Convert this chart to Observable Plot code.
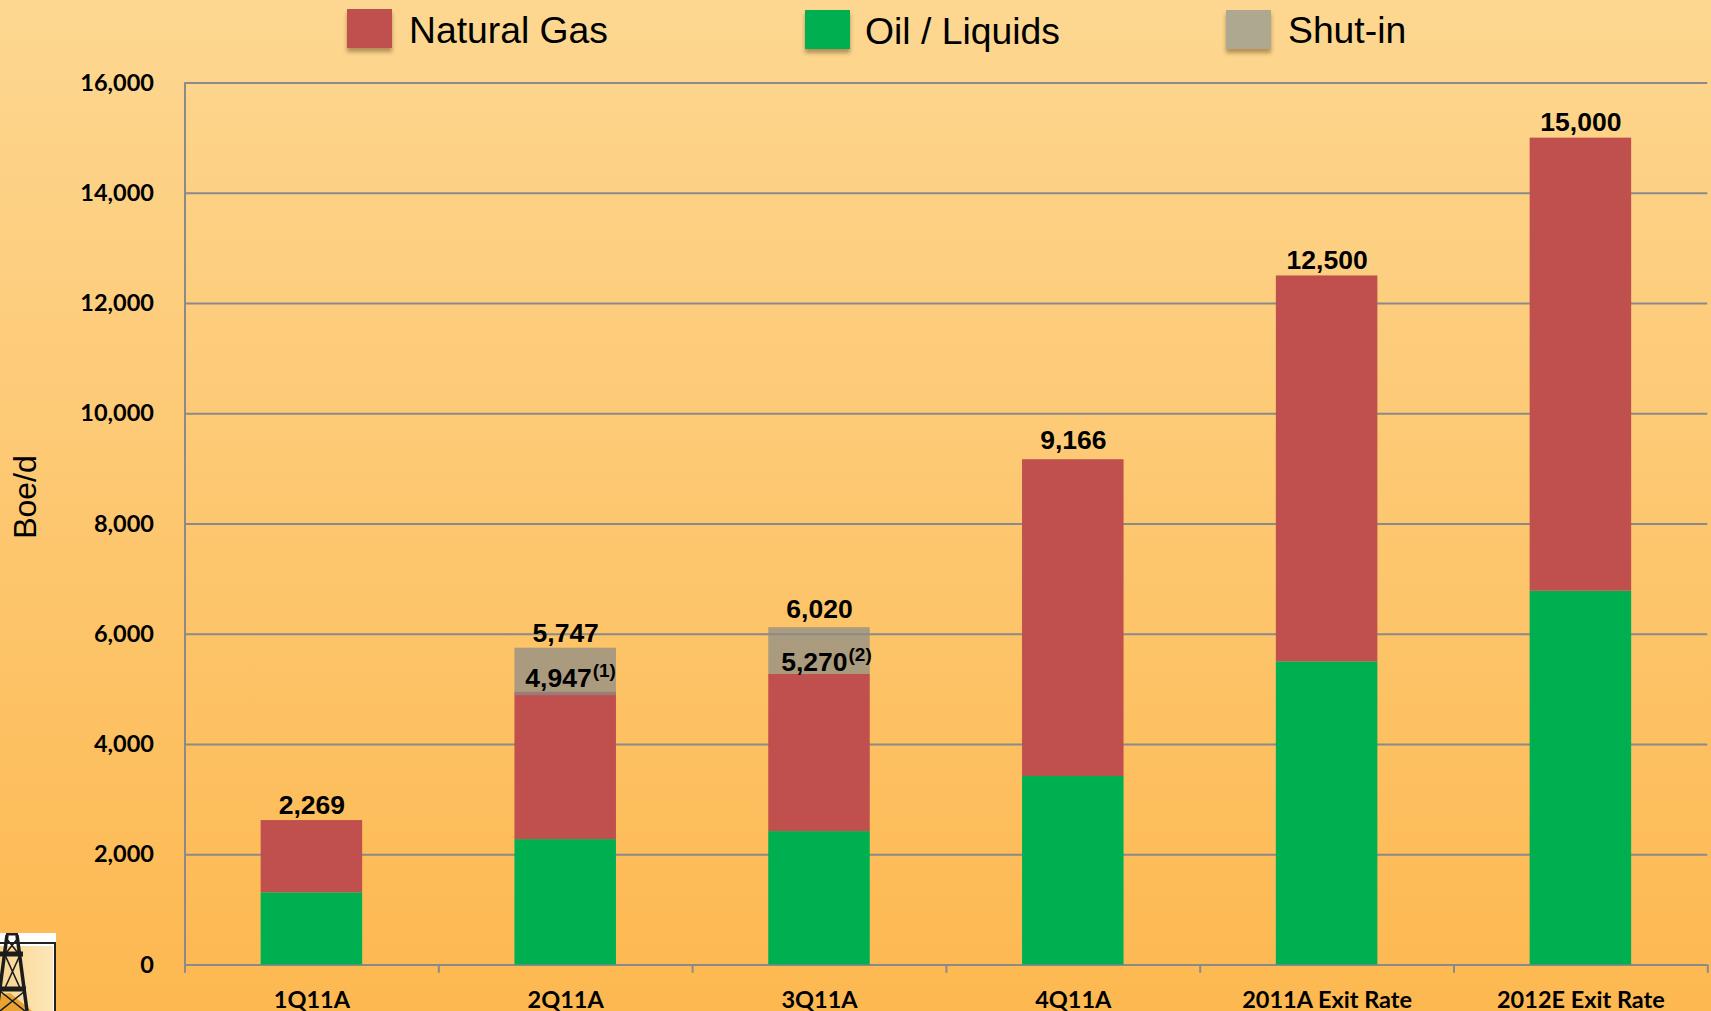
<!DOCTYPE html>
<html><head><meta charset="utf-8">
<script src="https://cdn.jsdelivr.net/npm/d3@7"></script>
<script src="https://cdn.jsdelivr.net/npm/@observablehq/plot@0.6"></script>
<style>
html,body{margin:0;padding:0;width:1711px;height:1011px;overflow:hidden}
body{position:relative;background:linear-gradient(#fdd791 0%,#fdb850 100%);font-family:"Liberation Sans",Arial,sans-serif}
#chart{position:absolute;left:0;top:0}
#chart svg{background:transparent;overflow:visible;display:block;max-width:none}
.sw{position:absolute;width:45px;height:39px;box-shadow:0 4px 4px rgba(90,60,20,.45)}
.lb{position:absolute;font-size:37.3px;line-height:42px;color:#000;white-space:nowrap}
#ylab{position:absolute;left:25px;top:497px;font-size:32px;color:#000;transform:translate(-50%,-50%) rotate(-90deg);white-space:nowrap}
#icon{position:absolute;left:0;top:933px}
</style></head><body>
<div id="chart"></div>
<div class="sw" style="left:347px;top:9px;background:#c0504d"></div><div class="lb" style="left:409px;top:9px">Natural Gas</div>
<div class="sw" style="left:805px;top:10px;background:#00b050"></div><div class="lb" style="left:865px;top:10px">Oil / Liquids</div>
<div class="sw" style="left:1226px;top:10px;background:#aea890"></div><div class="lb" style="left:1288px;top:9px">Shut-in</div>
<div id="ylab">Boe/d</div>
<svg id="icon" width="57" height="78" viewBox="0 0 57 78">
<defs><linearGradient id="beige" x1="0" x2="1" y1="0" y2="0"><stop offset="0" stop-color="#f8d690"/><stop offset="1" stop-color="#fde6b8"/></linearGradient></defs>
<rect width="56" height="78" fill="#fff"/>
<rect x="-2" y="10" width="57" height="70" fill="#fff" stroke="#222" stroke-width="2"/>
<rect x="-2" y="13" width="55" height="66" fill="url(#beige)"/>
<path d="M-2 78L-2 62L10 60L32 78Z" fill="#e8a332"/>
<g stroke="#1c1c1c" fill="none">
<path d="M7 2L-3 78M17 2L27 78" stroke-width="3.5"/>
<path d="M6 1H18" stroke-width="3"/>
<path d="M0 21H23" stroke-width="5"/><path d="M-2 56H26" stroke-width="5"/>
<path d="M6 5L18 20M18 5L6 20M5 22L20 55M20 22L5 55M0 58L25 78M25 58L0 78" stroke-width="1.6"/>
</g></svg>
<script>
const categories = ["1Q11A","2Q11A","3Q11A","4Q11A","2011A Exit Rate","2012E Exit Rate"];
const oilLiquids = [1310,2275,2420,3420,5500,6780];
const gasTop = [2620,4947,5270,9166,12500,15000];
const shutBottom = [null,4885,5270,null,null,null];
const shutTop = [null,5747,6120,null,null,null];
const totalLabels = ["2,269","5,747","6,020","9,166","12,500","15,000"];
const totalLabelAt = [2620,5730,6160,9226,12500,15000];
const netLabels = [null,"4,947","5,270",null,null,null];
const netLabelAt = [null,5050,5330,null,null,null];
const notes = [null,"(1)","(2)",null,null,null];
const yTicks = d3.range(0,16001,2000);
const step = 253.8;
const colors = {gas:"#c0504d",oil:"#00b050",shut:"#8a8c88"};
const idx = categories.map((c,i)=>i);
const tickFont = "Lato";
const netDx = [0,26,28,0,0,0];
const plot = Plot.plot({
  width:1711,height:1011,marginLeft:184.5,marginRight:3.7,marginTop:82.5,marginBottom:46.5,
  style:{background:"transparent"},
  x:{domain:categories,paddingInner:0.6,paddingOuter:0.3,round:false,label:null},
  y:{domain:[0,16000],label:null},
  marks:[
    Plot.ruleY(yTicks,{stroke:"#8a8a8a",strokeWidth:2}),
    Plot.ruleX([0],{x:()=>categories[0],dx:-step/2,y1:0,y2:16000,stroke:"#8a8a8a",strokeWidth:2}),
    Plot.ruleX(categories,{x:d=>d,dx:-step/2,y1:0,y2:-150,stroke:"#8a8a8a",strokeWidth:2}),
    Plot.ruleX([categories[5]],{x:d=>d,dx:step/2,y1:0,y2:-150,stroke:"#8a8a8a",strokeWidth:2}),
    Plot.barY(idx,{x:i=>categories[i],y1:0,y2:i=>oilLiquids[i],fill:colors.oil}),
    Plot.barY(idx,{x:i=>categories[i],y1:i=>oilLiquids[i],y2:i=>gasTop[i],fill:colors.gas}),
    Plot.barY(idx.filter(i=>shutTop[i]!=null),{x:i=>categories[i],y1:i=>shutBottom[i],y2:i=>shutTop[i],fill:colors.shut,fillOpacity:.72}),
    Plot.text(idx,{x:i=>categories[i],y:i=>totalLabelAt[i],text:i=>totalLabels[i],lineAnchor:"bottom",dy:-7,fontSize:26.5,fontWeight:700,fontFamily:"Liberation Sans",fill:"#000"}),
    Plot.text([1],{x:i=>categories[i],y:i=>netLabelAt[i],text:i=>netLabels[i],lineAnchor:"bottom",textAnchor:"end",dx:netDx[1],fontSize:26.5,fontWeight:700,fontFamily:"Liberation Sans",fill:"#000"}),
    Plot.text([2],{x:i=>categories[i],y:i=>netLabelAt[i],text:i=>netLabels[i],lineAnchor:"bottom",textAnchor:"end",dx:netDx[2],fontSize:26.5,fontWeight:700,fontFamily:"Liberation Sans",fill:"#000"}),
    Plot.text([1],{x:i=>categories[i],y:i=>netLabelAt[i],text:i=>notes[i],lineAnchor:"bottom",textAnchor:"start",dx:netDx[1]+1,dy:-10,fontSize:19,fontWeight:700,fontFamily:"Liberation Sans",fill:"#000"}),
    Plot.text([2],{x:i=>categories[i],y:i=>netLabelAt[i],text:i=>notes[i],lineAnchor:"bottom",textAnchor:"start",dx:netDx[2]+1,dy:-10,fontSize:19,fontWeight:700,fontFamily:"Liberation Sans",fill:"#000"}),
    Plot.axisY({ticks:yTicks,tickSize:0,tickPadding:31,tickFormat:d3.format(","),fontSize:23.5,fontWeight:700,fontFamily:tickFont,fill:"#000"}),
    Plot.axisX({tickSize:0,tickPadding:26,fontSize:23.5,fontWeight:700,fontFamily:tickFont,fill:"#000"})
  ]
});
document.getElementById("chart").appendChild(plot);
</script></body></html>
